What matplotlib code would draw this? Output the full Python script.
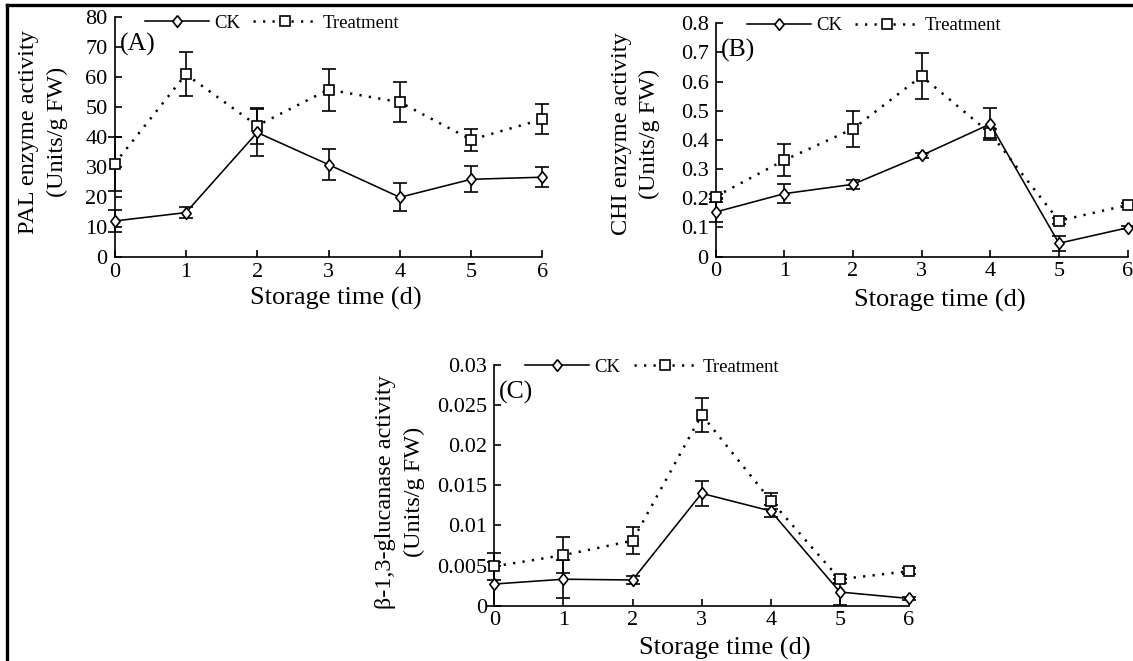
import matplotlib
matplotlib.use("Agg")
import matplotlib.pyplot as plt
from matplotlib.lines import Line2D

plt.rcParams['font.family'] = ['Liberation Serif', 'DejaVu Serif']

# ---------------- data ----------------
days = [0, 1, 2, 3, 4, 5, 6]
series_names = ["CK", "Treatment"]

pal_ck = [12.0, 14.8, 41.5, 30.8, 19.9, 25.9, 26.6]
pal_ck_err = [3.7, 1.8, 7.8, 5.3, 4.6, 4.3, 3.3]
pal_tr = [31.1, 60.9, 43.8, 55.8, 51.6, 39.1, 45.9]
pal_tr_err = [9.0, 7.4, 6.0, 7.0, 6.6, 3.7, 5.0]

chi_ck = [0.153, 0.216, 0.248, 0.347, 0.455, 0.046, 0.099]
chi_ck_err = [0.035, 0.033, 0.016, 0.008, 0.054, 0.025, 0.005]
chi_tr = [0.206, 0.331, 0.438, 0.619, 0.423, 0.123, 0.177]
chi_tr_err = [0.010, 0.055, 0.063, 0.080, 0.015, 0.010, 0.008]

glu_ck = [0.0027, 0.0033, 0.0032, 0.0140, 0.0118, 0.0017, 0.0009]
glu_ck_err = [0.0027, 0.0024, 0.0005, 0.0016, 0.0008, 0.0016, 0.0002]
glu_tr = [0.0049, 0.0063, 0.0081, 0.0238, 0.0131, 0.0033, 0.0043]
glu_tr_err = [0.0017, 0.0022, 0.0017, 0.0021, 0.0010, 0.0005, 0.0004]

pal_yticks = [0, 10, 20, 30, 40, 50, 60, 70, 80]
pal_yticklabels = ["0", "10", "20", "30", "40", "50", "60", "70", "80"]
chi_yticks = [0, 0.1, 0.2, 0.3, 0.4, 0.5, 0.6, 0.7, 0.8]
chi_yticklabels = ["0", "0.1", "0.2", "0.3", "0.4", "0.5", "0.6", "0.7", "0.8"]
glu_yticks = [0, 0.005, 0.01, 0.015, 0.02, 0.025, 0.03]
glu_yticklabels = ["0", "0.005", "0.01", "0.015", "0.02", "0.025", "0.03"]

xlabel_text = "Storage time (d)"
pal_ylabel = "PAL enzyme activity\n(Units/g FW)"
chi_ylabel = "CHI enzyme activity\n(Units/g FW)"
glu_ylabel = "\u03b2-1,3-glucanase activity\n(Units/g FW)"

# ---------------- style ----------------
diamond = [(0, 1), (0.8, 0), (0, -1), (-0.8, 0), (0, 1)]
TICK_FS = 16
LABEL_FS = 17.5
XLABEL_FS = 19
LEG_FS = 13.5
PANEL_FS = 18.5


def draw_panel(ax, ck, ck_err, tr, tr_err, yticks, yticklabels, ylabel, panel,
               ylabel_xy, xlabel_xy, leg_x, leg_y):
    # error bars (drawn first, behind markers)
    ax.errorbar(days, ck, yerr=ck_err, fmt='none', ecolor='black',
                elinewidth=1.2, capsize=4.8, capthick=1.2, zorder=2, clip_on=False)
    ax.errorbar(days, tr, yerr=tr_err, fmt='none', ecolor='black',
                elinewidth=1.2, capsize=4.8, capthick=1.2, zorder=2, clip_on=False)
    l_ck, = ax.plot(days, ck, color='black', lw=1.15, ls='-', marker=diamond,
                    ms=8.4, mfc='white', mec='black', mew=1.2, zorder=4,
                    clip_on=False, label=series_names[0])
    l_tr, = ax.plot(days, tr, color='black', lw=1.8, ls=(0, (0.9, 2.9)),
                    marker='s', ms=7.0, mfc='white', mec='black', mew=1.2,
                    zorder=3, clip_on=False, label=series_names[1])
    ax.set_xlim(0, 6)
    ax.set_ylim(yticks[0], yticks[-1])
    ax.set_xticks(days)
    ax.set_xticklabels([str(d) for d in days])
    ax.set_yticks(yticks)
    ax.set_yticklabels(yticklabels)
    for s in ['top', 'right']:
        ax.spines[s].set_visible(False)
    for s in ['left', 'bottom']:
        ax.spines[s].set_linewidth(1.2)
    ax.tick_params(direction='in', length=5, width=1.2, labelsize=TICK_FS)
    ax.tick_params(axis='x', pad=4)
    ax.tick_params(axis='y', pad=5)
    ax.set_ylabel(ylabel, fontsize=LABEL_FS, linespacing=1.45, ha='center')
    ax.yaxis.set_label_coords(*ylabel_xy)
    ax.set_xlabel(xlabel_text, fontsize=XLABEL_FS)
    ax.xaxis.set_label_coords(*xlabel_xy)
    ax.xaxis.label.set_va('center')
    ax.yaxis.label.set_va('center')
    ax.text(0.012, 0.885, panel, transform=ax.transAxes, fontsize=PANEL_FS,
            ha='left', va='center')
    ax.legend(handles=[l_ck, l_tr], loc='center left',
              bbox_to_anchor=(leg_x, leg_y), ncol=2, frameon=False,
              fontsize=LEG_FS, handlelength=3.4, handletextpad=0.3,
              columnspacing=0.7, borderpad=0, borderaxespad=0, numpoints=1)


fig = plt.figure(figsize=(11.33, 6.61), dpi=100)
axA = fig.add_axes([0.1011, 0.6112, 0.3777, 0.3631])
axB = fig.add_axes([0.6316, 0.6117, 0.3636, 0.3530])
axC = fig.add_axes([0.4363, 0.0837, 0.3660, 0.3641])

draw_panel(axA, pal_ck, pal_ck_err, pal_tr, pal_tr_err, pal_yticks,
           pal_yticklabels, pal_ylabel, "(A)", (-0.167, 0.52), (0.517, -0.171),
           0.071, 0.975)
draw_panel(axB, chi_ck, chi_ck_err, chi_tr, chi_tr_err, chi_yticks,
           chi_yticklabels, chi_ylabel, "(B)", (-0.194, 0.526), (0.545, -0.186),
           0.076, 0.99)
draw_panel(axC, glu_ck, glu_ck_err, glu_tr, glu_tr_err, glu_yticks,
           glu_yticklabels, glu_ylabel, "(C)", (-0.227, 0.472), (0.557, -0.176),
           0.074, 0.99)

# outer frame (left and top edges)
fig.add_artist(Line2D([7 / 1133, 7 / 1133], [0, 1 - 5 / 661], color='black',
                      lw=2.4, transform=fig.transFigure))
fig.add_artist(Line2D([7 / 1133, 1], [1 - 5 / 661, 1 - 5 / 661], color='black',
                      lw=2.4, transform=fig.transFigure))

fig.savefig("out.png", dpi=100)
